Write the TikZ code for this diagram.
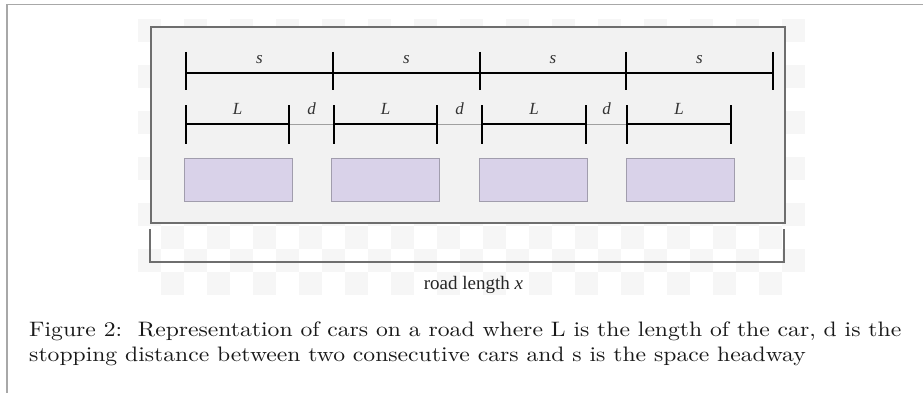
\documentclass[tikz,border=0pt]{standalone}
\usepackage{fontspec}
\usepackage{graphicx}
\newfontfamily\figfont{Liberation Serif}
\definecolor{roadfill}{HTML}{F2F2F2}
\definecolor{roadedge}{HTML}{6E6E6E}
\definecolor{carfill}{HTML}{D9D2E9}
\definecolor{caredge}{HTML}{A19DAD}
\definecolor{checker}{HTML}{F6F6F6}
\definecolor{framegray}{HTML}{A8A8A8}
\definecolor{linkgray}{HTML}{A0A0A0}
\begin{document}
\begin{tikzpicture}[x=1pt,y=-1pt,
  roadbox/.style={fill=roadfill,draw=roadedge,line width=1.8pt},
  carbox/.style={fill=carfill,draw=caredge,line width=1.2pt},
  bigline/.style={line width=2.2pt,black},
  bigtick/.style={line width=2.6pt,black},
  smallline/.style={line width=2pt,black},
  smalltick/.style={line width=2pt,black},
  link/.style={line width=0.8pt,linkgray},
  lbl/.style={font=\figfont\itshape\fontsize{17}{19}\selectfont,anchor=base,inner sep=0pt,text=black!80},
  bracket/.style={draw=roadedge,line width=1.8pt}]
\useasboundingbox (0,0) rectangle (923,393);
\fill[white] (0,0) rectangle (923,393);
% faint checker background of the figure image
\foreach \i in {0,...,28}{
  \foreach \j in {0,...,11}{
    \pgfmathtruncatemacro\ckpar{mod(\i+\j,2)}
    \ifnum\ckpar=0
      \fill[checker] ({138+23*\i},{19+23*\j}) rectangle ++(23,23);
    \fi
  }
}
% page frame
\draw[framegray,line width=1.5pt] (7,393) -- (7,4.7) -- (923,4.7);
% road
\node[roadbox,minimum width=634pt,minimum height=196pt,inner sep=0pt,anchor=north west] (road) at (150,26) {};
% s dimension line
\foreach \n/\x in {0/186,1/333,2/480,3/626,4/773}{
  \coordinate (S\n) at (\x,73);
  \coordinate (S\n t) at (\x,52);
  \coordinate (S\n b) at (\x,90);
}
\draw[bigline] (S0) -- (S4);
\foreach \n in {0,...,4}{\draw[bigtick] (S\n t) -- (S\n b);}
\foreach \a/\b in {0/1,1/2,2/3,3/4}{
  \path (S\a) -- (S\b) coordinate[midway] (m\a);
  \node[lbl] (s\a) at ([yshift=9.7pt]m\a) {s};
}
% L and d dimension lines
\foreach \n/\x/\y in {1/186/289,2/334/437,3/482/586,4/627/731}{
  \coordinate (L\n a) at (\x,124.5);
  \coordinate (L\n b) at (\y,124.5);
}
\draw[link] (L1a) -- (L4b);
\foreach \n in {1,...,4}{
  \draw[smallline] (L\n a) -- (L\n b);
  \draw[smalltick] ([yshift=-19pt]L\n a) -- ([yshift=19pt]L\n a);
  \draw[smalltick] ([yshift=-19pt]L\n b) -- ([yshift=19pt]L\n b);
  \path (L\n a) -- (L\n b) coordinate[midway] (lm\n);
  \node[lbl] (L\n) at ([yshift=9.5pt]lm\n) {L};
}
\foreach \a/\b in {1/2,2/3,3/4}{
  \path (L\a b) -- (L\b a) coordinate[midway] (dm\a);
  \node[lbl] (d\a) at ([yshift=9.5pt]dm\a) {d};
}
% cars
\foreach \n/\x in {1/184,2/331,3/478.5,4/625.5}{
  \node[carbox,minimum width=108pt,minimum height=43pt,inner sep=0pt,anchor=north west] (car\n) at (\x,157.5) {};
}
% road length bracket
\coordinate (B1) at (150,229);
\coordinate (B2) at (150,262);
\coordinate (B3) at (784,262);
\coordinate (B4) at (784,229);
\draw[bracket] (B1) -- (B2) -- (B3) -- (B4);
\node[font=\figfont\fontsize{19}{22}\selectfont,anchor=base,inner sep=0pt,text=black!85] (roadlen) at (473.5,289) {road length \textit{x}};
% caption
\node[anchor=north west,inner sep=0pt,text=black!90] (caption) at (29,318.4) {\resizebox*{872pt}{50.2pt}{\begin{tabular}{@{}l@{}}Figure 2:\ \ Representation of cars on a road where L is the length of the car, d is the\\ stopping distance between two consecutive cars and s is the space headway\end{tabular}}};
\end{tikzpicture}
\end{document}
